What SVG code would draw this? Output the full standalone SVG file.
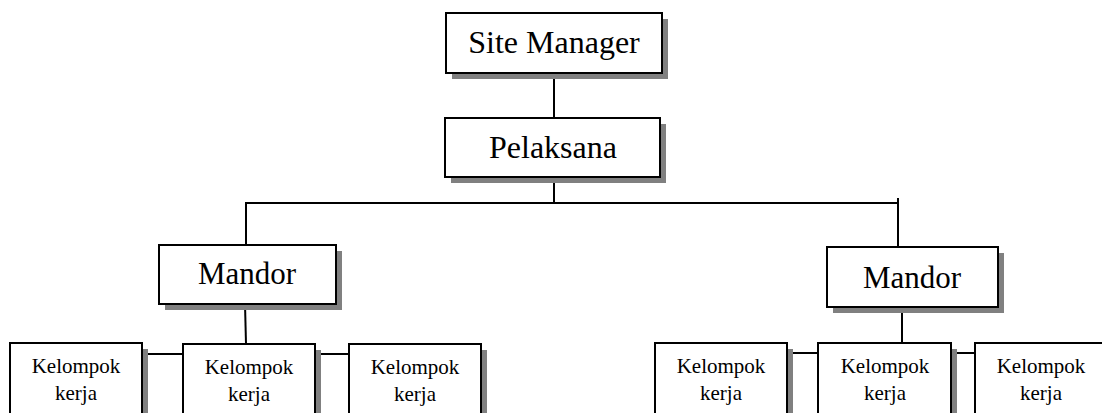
<svg xmlns="http://www.w3.org/2000/svg" width="1102" height="413" viewBox="0 0 1102 413">
<defs>
<style>
.sh{fill:#808080;stroke:none}
.bx{fill:#fff;stroke:#000;stroke-width:2}
.ln{stroke:#000;stroke-width:2;fill:none}
</style>
</defs>
<rect width="1102" height="413" fill="#fff"/>
<g id="connectors">
<line class="ln" x1="554" y1="73" x2="554" y2="118"/>
<line class="ln" x1="554" y1="173" x2="554" y2="204"/>
<polyline class="ln" points="246,245 246,203 898,203"/>
<line class="ln" x1="898" y1="198" x2="898" y2="248"/>
<line class="ln" x1="245" y1="304" x2="246" y2="344"/>
<line class="ln" x1="902" y1="303" x2="902" y2="343"/>
<line class="ln" x1="147" y1="354" x2="183" y2="354"/>
<line class="ln" x1="320" y1="354" x2="349" y2="354"/>
<line class="ln" x1="792" y1="353" x2="818" y2="353"/>
<line class="ln" x1="957" y1="353" x2="975" y2="353"/>
</g>
<g font-family="Liberation Serif" text-anchor="middle" fill="#000">
<g id="site-manager">
<rect class="sh" x="452" y="19" width="216" height="60"/>
<rect class="bx" x="446" y="13" width="216" height="60"/>
<text font-size="32" x="554" y="53">Site Manager</text>
</g>
<g id="pelaksana">
<rect class="sh" x="451" y="124" width="215" height="59"/>
<rect class="bx" x="445" y="118" width="215" height="59"/>
<text font-size="32" x="553" y="158">Pelaksana</text>
</g>
<g id="mandor-left">
<rect class="sh" x="165" y="251" width="177" height="59"/>
<rect class="bx" x="159" y="245" width="177" height="59"/>
<text font-size="31" x="247" y="284">Mandor</text>
</g>
<g id="mandor-right">
<rect class="sh" x="833" y="253" width="171" height="60"/>
<rect class="bx" x="827" y="247" width="171" height="60"/>
<text font-size="31" x="912" y="288">Mandor</text>
</g>
<g id="kelompok-l1">
<rect class="sh" x="16" y="349" width="132" height="80"/>
<rect class="bx" x="10" y="343" width="132" height="80"/>
<text font-size="21" x="76" y="373">Kelompok</text>
<text font-size="21" x="76" y="400">kerja</text>
</g>
<g id="kelompok-l2">
<rect class="sh" x="189" y="350" width="132" height="80"/>
<rect class="bx" x="183" y="344" width="132" height="80"/>
<text font-size="21" x="249" y="374">Kelompok</text>
<text font-size="21" x="249" y="401">kerja</text>
</g>
<g id="kelompok-l3">
<rect class="sh" x="355" y="350" width="132" height="80"/>
<rect class="bx" x="349" y="344" width="132" height="80"/>
<text font-size="21" x="415" y="374">Kelompok</text>
<text font-size="21" x="415" y="401">kerja</text>
</g>
<g id="kelompok-r1">
<rect class="sh" x="661" y="349" width="132" height="80"/>
<rect class="bx" x="655" y="343" width="132" height="80"/>
<text font-size="21" x="721" y="373">Kelompok</text>
<text font-size="21" x="721" y="400">kerja</text>
</g>
<g id="kelompok-r2">
<rect class="sh" x="824" y="349" width="133" height="80"/>
<rect class="bx" x="818" y="343" width="133" height="80"/>
<text font-size="21" x="885" y="373">Kelompok</text>
<text font-size="21" x="885" y="400">kerja</text>
</g>
<g id="kelompok-r3">
<rect class="sh" x="981" y="349" width="132" height="80"/>
<rect class="bx" x="975" y="343" width="132" height="80"/>
<text font-size="21" x="1041" y="373">Kelompok</text>
<text font-size="21" x="1041" y="400">kerja</text>
</g>
</g>
</svg>
